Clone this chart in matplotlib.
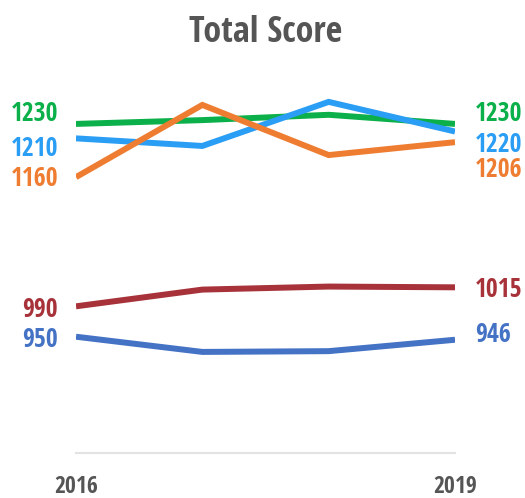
import matplotlib
matplotlib.use("Agg")
import matplotlib.pyplot as plt

# ---- data ----
years = [2016, 2017, 2018, 2019]
green = [1230, 1235, 1242, 1230]
light_blue = [1211, 1201, 1259, 1220]
orange = [1160, 1255, 1189, 1206]
red = [990, 1012, 1016, 1015]
dark_blue = [950, 930, 931, 946]

start_labels = ["1230", "1210", "1160", "990", "950"]
end_labels = ["1230", "1220", "1206", "1015", "946"]
tick_labels = ["2016", "2019"]

series = [green, light_blue, orange, red, dark_blue]
colors = ["#0bb04a", "#2a9df4", "#ee7d32", "#a8323a", "#4472c4"]

# label nudges in pixels (to keep labels apart)
start_dy = [10, -10, -1, -3, -3]
end_dy = [10, -13, -27, -2, 5]

plt.rcParams['font.family'] = ['Open Sans Condensed', 'DejaVu Sans']

fig = plt.figure(figsize=(5.25, 4.98), dpi=100)
ax = fig.add_axes([76 / 525, 45 / 498, (455 - 76) / 525, 0.858 - 45 / 498])

for vals, c in zip(series, colors):
    ax.plot(years, vals, color=c, lw=4.3, solid_capstyle='butt', solid_joinstyle='miter')

for vals, c, s, e, sd, ed in zip(series, colors, start_labels, end_labels, start_dy, end_dy):
    ax.annotate(s, (years[0], vals[0]), xytext=(-18, sd), textcoords='offset pixels',
                ha='right', va='center', color=c, fontsize=18.5, fontweight='bold')
    ax.annotate(e, (years[-1], vals[-1]), xytext=(20, ed), textcoords='offset pixels',
                ha='left', va='center', color=c, fontsize=18.5, fontweight='bold')

ax.set_xlim(2016, 2019)
ax.set_ylim(797, 1300)
for side in ['top', 'right', 'left']:
    ax.spines[side].set_visible(False)
ax.spines['bottom'].set_color('#e3e3e3')
ax.spines['bottom'].set_linewidth(1.5)
ax.set_yticks([])
ax.set_xticks([2016, 2019])
ax.set_xticklabels(tick_labels, fontsize=17, fontweight='bold', color='#555555')
ax.tick_params(axis='x', length=0, pad=16)

fig.suptitle("Total Score", x=266 / 525, y=0.97, fontsize=26, fontweight='bold', color='#555555')

plt.savefig("out.png", dpi=100)
